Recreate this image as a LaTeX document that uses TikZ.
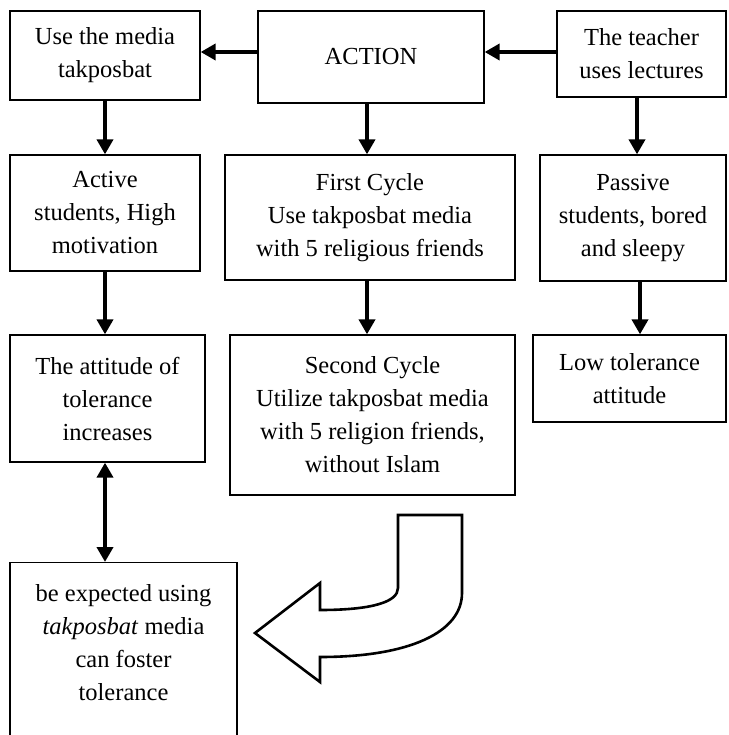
\documentclass[tikz,border=0pt]{standalone}
\usepackage{fontspec}
\setmainfont{Liberation Serif}
\usetikzlibrary{arrows.meta}
\tikzset{
    box/.style={draw, line width=1.3pt, align=center, inner sep=0pt,
        font=\fontsize{24.5}{33}\selectfont},
    arr/.style={line width=4pt, -{Triangle[width=16pt,length=15pt]}},
}
\begin{document}
\begin{tikzpicture}[x=1pt, y=-1pt]
    \useasboundingbox (0,0) rectangle (728,735);
    % top row
    \node[box, minimum width=190, minimum height=89] (media) at (105,55.5) {Use the media\\takposbat};
    \node[box, minimum width=226, minimum height=92] (action) at (371,57) {ACTION};
    \node[box, minimum width=169, minimum height=86] (teacher) at (641.5,54) {The teacher\\uses lectures};
    % second row
    \node[box, minimum width=190, minimum height=116] (active) at (105,213) {Active\\students, High\\motivation};
    \node[box, minimum width=290, minimum height=125] (first) at (370,217.5) {First Cycle\\Use takposbat media\\with 5 religious friends};
    \node[box, minimum width=186, minimum height=126] (passive) at (633,218) {Passive\\students, bored\\and sleepy};
    % third row
    \node[box, minimum width=195, minimum height=127] (attitude) at (107.5,398.5) {The attitude of\\tolerance\\increases};
    \node[box, minimum width=285, minimum height=160] (second) at (372.5,415) {Second Cycle\\Utilize takposbat media\\with 5 religion friends,\\without Islam};
    \node[box, minimum width=193, minimum height=87] (low) at (629.5,378.5) {Low tolerance\\attitude};
    % bottom
    \node[box, minimum width=227, minimum height=183, anchor=north] (expected) at (123.5,562)
        {be expected using\\\textit{takposbat} media\\can foster\\tolerance\\[-10pt]};
    % connectors
    \draw[arr] (action.west |- 0,52) -- (media.east |- 0,52);
    \draw[arr] (teacher.west |- 0,52) -- (action.east |- 0,52);
    \draw[arr] (media.south) -- (active.north);
    \draw[arr] (action.south -| 367,0) -- (first.north -| 367,0);
    \draw[arr] (teacher.south -| 637,0) -- (passive.north -| 637,0);
    \draw[arr] (active.south) -- (attitude.north -| active.south);
    \draw[arr] (first.south -| 367,0) -- (second.north -| 367,0);
    \draw[arr] (passive.south -| 640,0) -- (low.north -| 640,0);
    \draw[line width=4pt, {Triangle[width=16pt,length=15pt]}-{Triangle[width=16pt,length=15pt]}]
        (attitude.south -| 105,0) -- (expected.north -| 105,0);
    % turning arrow
    \draw[line width=2.6pt, line join=miter] (398,515) -- (462,515) -- (462,593)
        .. controls (462,632) and (410,657) .. (320,657) -- (320,682) -- (255,633)
        -- (320,583) -- (320,610) .. controls (372,610) and (398,602) .. (398,588) -- cycle;
\end{tikzpicture}
\end{document}
